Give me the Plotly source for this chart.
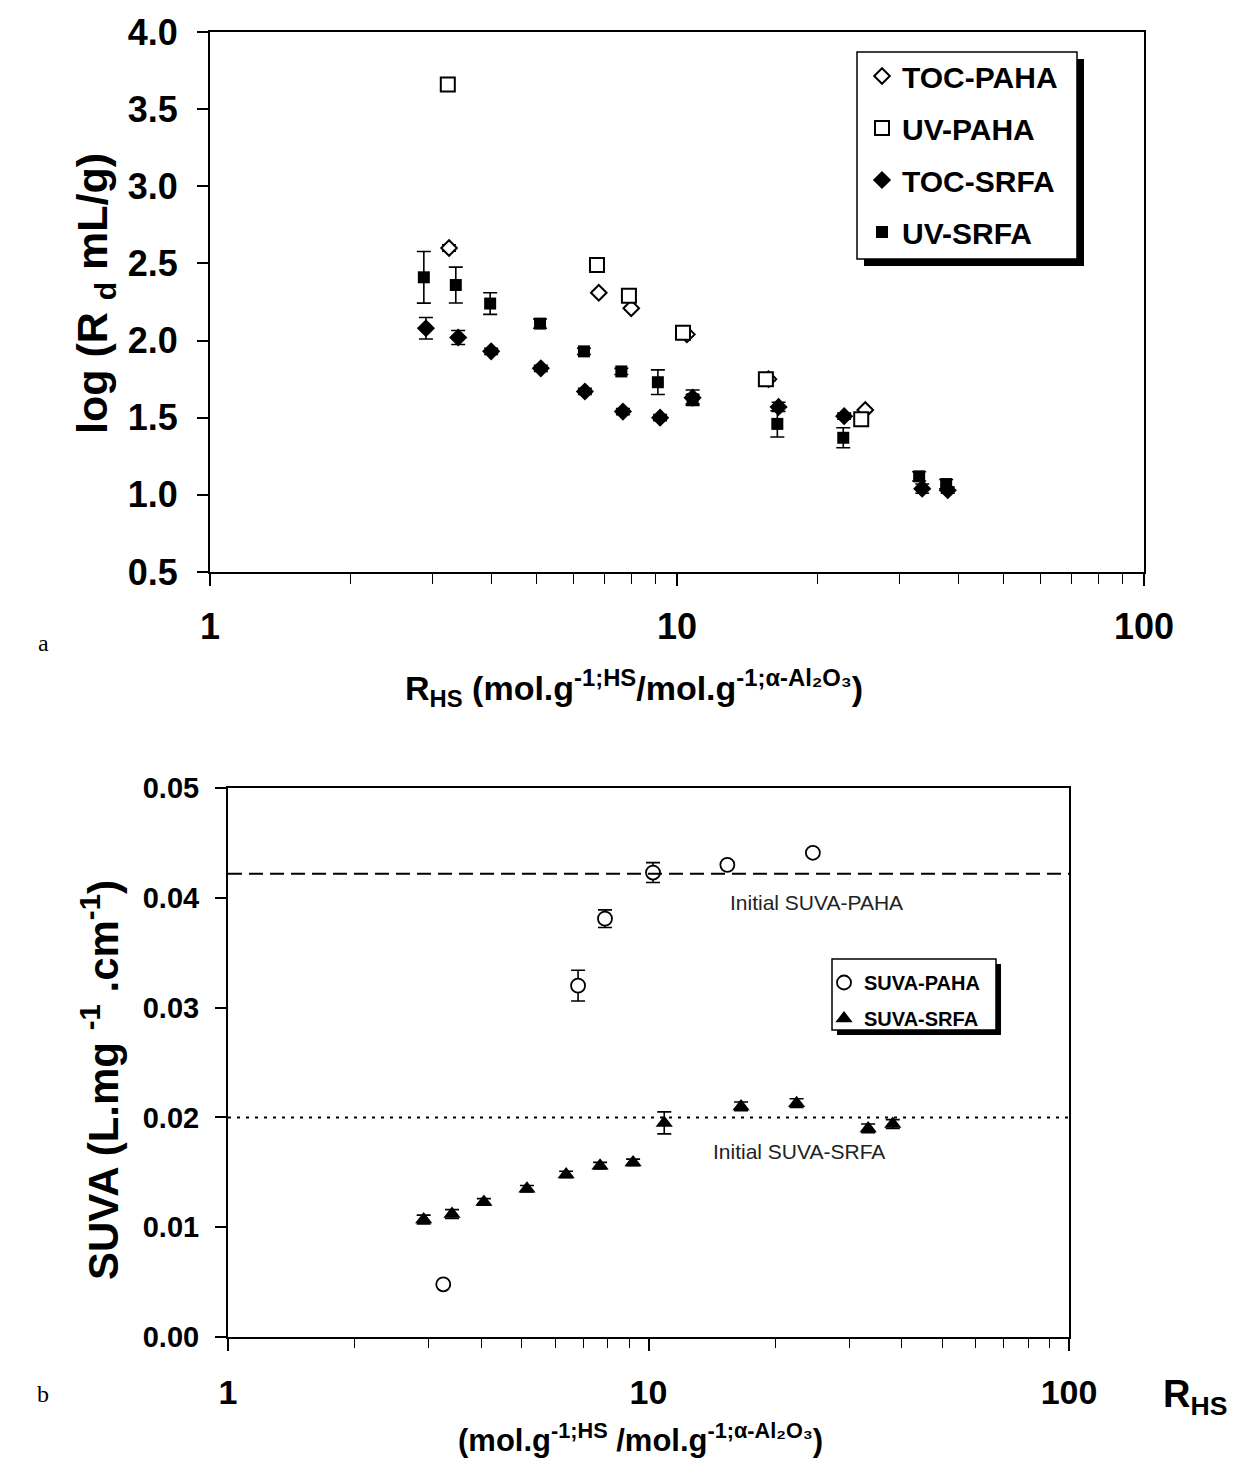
import plotly.graph_objects as go

# ---------------- data (panel a) ----------------
toc_paha_x = [3.25, 6.80, 7.98, 10.5, 15.7, 25.3]
toc_paha_y = [2.60, 2.31, 2.21, 2.04, 1.75, 1.55]
toc_paha_err = [0.02, 0.01, 0.01, 0.01, 0.01, 0.01]

uv_paha_x = [3.23, 6.74, 7.89, 10.3, 15.5, 24.8]
uv_paha_y = [3.66, 2.49, 2.29, 2.05, 1.75, 1.49]
uv_paha_err = [0.01, 0.01, 0.01, 0.01, 0.01, 0.01]

toc_srfa_x = [2.90, 3.40, 4.00, 5.11, 6.35, 7.66, 9.2, 10.8, 16.5, 22.8, 33.5, 38.0]
toc_srfa_y = [2.08, 2.02, 1.93, 1.82, 1.67, 1.54, 1.50, 1.63, 1.57, 1.51, 1.04, 1.03]
toc_srfa_err = [0.07, 0.045, 0.02, 0.02, 0.02, 0.02, 0.02, 0.05, 0.03, 0.02, 0.03, 0.02]

uv_srfa_x = [2.87, 3.36, 3.98, 5.09, 6.32, 7.6, 9.1, 10.8, 16.4, 22.7, 33.0, 37.7]
uv_srfa_y = [2.41, 2.36, 2.24, 2.11, 1.93, 1.80, 1.73, 1.62, 1.46, 1.37, 1.12, 1.07]
uv_srfa_err = [0.167, 0.116, 0.07, 0.03, 0.02, 0.02, 0.08, 0.03, 0.085, 0.065, 0.03, 0.03]

# ---------------- data (panel b) ----------------
suva_paha_x = [3.25, 6.80, 7.88, 10.25, 15.4, 24.6]
suva_paha_y = [0.0048, 0.0320, 0.0381, 0.0423, 0.0430, 0.0441]
suva_paha_err = [0.0002, 0.0014, 0.0008, 0.0009, 0.0002, 0.0002]

suva_srfa_x = [2.92, 3.41, 4.06, 5.14, 6.37, 7.67, 9.19, 10.9, 16.6, 22.5, 33.3, 38.1]
suva_srfa_y = [0.0107, 0.0112, 0.0123, 0.0135, 0.0148, 0.0156, 0.0159, 0.0195,
               0.0210, 0.0213, 0.0190, 0.0194]
suva_srfa_err = [0.0004, 0.0004, 0.0003, 0.0003, 0.0003, 0.0003, 0.0003, 0.0010,
                 0.0004, 0.0004, 0.0004, 0.0004]

initial_suva_paha = 0.0422
initial_suva_srfa = 0.0200

x_tick_vals = [1, 10, 100]
x_tick_text = ["1", "10", "100"]
x_minor_vals = [2, 3, 4, 5, 6, 7, 8, 9, 20, 30, 40, 50, 60, 70, 80, 90]

FONT = "Arial, 'Liberation Sans', sans-serif"
SERIF = "'Times New Roman', 'Liberation Serif', serif"

W, H = 1238, 1460
OFF = 8  # page body margin


def px_x(p):
    return (p - OFF) / W


def px_y(p):
    return 1 - (p - OFF) / H


fig = go.Figure()


def err(arr, w=7, t=1.6):
    return dict(type="data", array=arr, visible=True, color="black", thickness=t, width=w)


fig.add_trace(go.Scatter(
    x=toc_paha_x, y=toc_paha_y, mode="markers", name="TOC-PAHA",
    marker=dict(symbol="diamond", size=12, color="white", line=dict(width=2, color="black")),
    error_y=err(toc_paha_err), xaxis="x", yaxis="y", legend="legend", legendgroup="a1"))
fig.add_trace(go.Scatter(
    x=uv_paha_x, y=uv_paha_y, mode="markers", name="UV-PAHA",
    marker=dict(symbol="square", size=14, color="white", line=dict(width=2, color="black")),
    error_y=err(uv_paha_err), xaxis="x", yaxis="y", legend="legend", legendgroup="a2"))
fig.add_trace(go.Scatter(
    x=toc_srfa_x, y=toc_srfa_y, mode="markers", name="TOC-SRFA",
    marker=dict(symbol="diamond", size=14, color="black"),
    error_y=err(toc_srfa_err), xaxis="x", yaxis="y", legend="legend", legendgroup="a3"))
fig.add_trace(go.Scatter(
    x=uv_srfa_x, y=uv_srfa_y, mode="markers", name="UV-SRFA",
    marker=dict(symbol="square", size=12, color="black"),
    error_y=err(uv_srfa_err), xaxis="x", yaxis="y", legend="legend", legendgroup="a4"))

fig.add_trace(go.Scatter(
    x=suva_paha_x, y=suva_paha_y, mode="markers", name="SUVA-PAHA",
    marker=dict(symbol="circle", size=14, color="white", line=dict(width=1.8, color="black")),
    error_y=err(suva_paha_err), xaxis="x2", yaxis="y2", legend="legend2", legendgroup="b1"))
fig.add_trace(go.Scatter(
    x=suva_srfa_x, y=suva_srfa_y, mode="markers", name="SUVA-SRFA",
    marker=dict(symbol="triangle-up", size=15, color="black"),
    error_y=err(suva_srfa_err), xaxis="x2", yaxis="y2", legend="legend2", legendgroup="b2"))

# reference lines for initial SUVA
fig.add_shape(type="line", xref="x2 domain", yref="y2", x0=0, x1=1,
              y0=initial_suva_paha, y1=initial_suva_paha,
              line=dict(color="black", width=2, dash="14px,7px"))
fig.add_shape(type="line", xref="x2 domain", yref="y2", x0=0, x1=1,
              y0=initial_suva_srfa, y1=initial_suva_srfa,
              line=dict(color="black", width=2, dash="3px,6px"))


# legend boxes with drop shadows
def boxed(x0, y0, x1, y1, off):
    fig.add_shape(type="rect", xref="paper", yref="paper",
                  x0=px_x(x0 + off), x1=px_x(x1 + off), y0=px_y(y1 + off), y1=px_y(y0 + off),
                  fillcolor="black", line=dict(width=0), layer="above")
    fig.add_shape(type="rect", xref="paper", yref="paper",
                  x0=px_x(x0), x1=px_x(x1), y0=px_y(y1), y1=px_y(y0),
                  fillcolor="white", line=dict(width=1.5, color="black"), layer="above")


boxed(857, 52, 1077, 259, 7)
boxed(832, 959, 996, 1030, 5)

axis_common = dict(showline=True, linecolor="black", linewidth=2, mirror=True,
                   showgrid=False, zeroline=False, ticks="outside", automargin=False,
                   tickcolor="black", tickwidth=1.5)

fig.update_layout(
    width=W, height=H, margin=dict(l=0, r=0, t=0, b=0, autoexpand=False),
    paper_bgcolor="white", plot_bgcolor="white",
    font=dict(family=FONT, color="black"),
    xaxis=dict(**axis_common, type="log", range=[0, 2], domain=[px_x(210), px_x(1144)],
               anchor="y", tickvals=x_tick_vals, ticktext=x_tick_text, ticklen=12,
               tickfont=dict(size=36, weight="bold"), ticklabelstandoff=10,
               minor=dict(tickvals=x_minor_vals, ticks="outside", ticklen=10,
                          tickwidth=1.3, tickcolor="black", showgrid=False)),
    yaxis=dict(**axis_common, range=[0.5, 4.0], dtick=0.5, tickformat=".1f",
               domain=[px_y(572), px_y(32)], anchor="x", ticklen=11,
               tickfont=dict(size=36, weight="bold"), ticklabelstandoff=12),
    xaxis2=dict(**axis_common, type="log", range=[0, 2], domain=[px_x(228), px_x(1069)],
                anchor="y2", tickvals=x_tick_vals, ticktext=x_tick_text, ticklen=12,
                tickfont=dict(size=34, weight="bold"), ticklabelstandoff=12,
                minor=dict(tickvals=x_minor_vals, ticks="outside", ticklen=9,
                           tickwidth=1.3, tickcolor="black", showgrid=False)),
    yaxis2=dict(**axis_common, range=[0, 0.05], dtick=0.01, tickformat=".2f",
                domain=[px_y(1337), px_y(788)], anchor="x2", ticklen=11,
                tickfont=dict(size=29, weight="bold"), ticklabelstandoff=10),
    legend=dict(x=px_x(862), y=px_y(50), xanchor="left", yanchor="top",
                bgcolor="rgba(0,0,0,0)", borderwidth=0,
                font=dict(size=30, weight="bold", family=FONT),
                tracegroupgap=10, itemwidth=30),
    legend2=dict(x=px_x(824), y=px_y(963), xanchor="left", yanchor="top",
                 bgcolor="rgba(0,0,0,0)", borderwidth=0,
                 font=dict(size=20, weight="bold", family=FONT), itemwidth=30,
                 tracegroupgap=7),
    showlegend=True,
)

annotations = [
    dict(text="log (R <sub>d</sub> mL/g)", x=px_x(95), y=px_y(294), textangle=-90,
         font=dict(size=43, weight="bold")),
    dict(text="R<sub>HS</sub> (mol.g<sup>-1;HS</sup>/mol.g<sup>-1;α-Al₂O₃</sup>)",
         x=px_x(634), y=px_y(688), font=dict(size=34, weight="bold")),
    dict(text="SUVA (L.mg <sup>-1</sup> .cm<sup>-1</sup>)", x=px_x(100), y=px_y(1080),
         textangle=-90, font=dict(size=42, weight="bold")),
    dict(text="R<sub>HS</sub>", x=px_x(1195), y=px_y(1397), font=dict(size=38, weight="bold")),
    dict(text="(mol.g<sup>-1;HS</sup> /mol.g<sup>-1;α-Al₂O₃</sup>)", x=px_x(640), y=px_y(1438),
         font=dict(size=31, weight="bold")),
    dict(text="a", x=px_x(43), y=px_y(643), font=dict(size=24, family=SERIF)),
    dict(text="b", x=px_x(43), y=px_y(1394), font=dict(size=24, family=SERIF)),
]
for a in annotations:
    fig.add_annotation(xref="paper", yref="paper", showarrow=False,
                       xanchor="center", yanchor="middle", **a)

fig.add_annotation(text="Initial SUVA-PAHA", x=1.4007, y=0.0396, xref="x2", yref="y2",
                   showarrow=False, font=dict(size=21, color="#222222"))
fig.add_annotation(text="Initial SUVA-SRFA", x=1.358, y=0.01685, xref="x2", yref="y2",
                   showarrow=False, font=dict(size=21, color="#222222"))

fig.write_html("out.html")
